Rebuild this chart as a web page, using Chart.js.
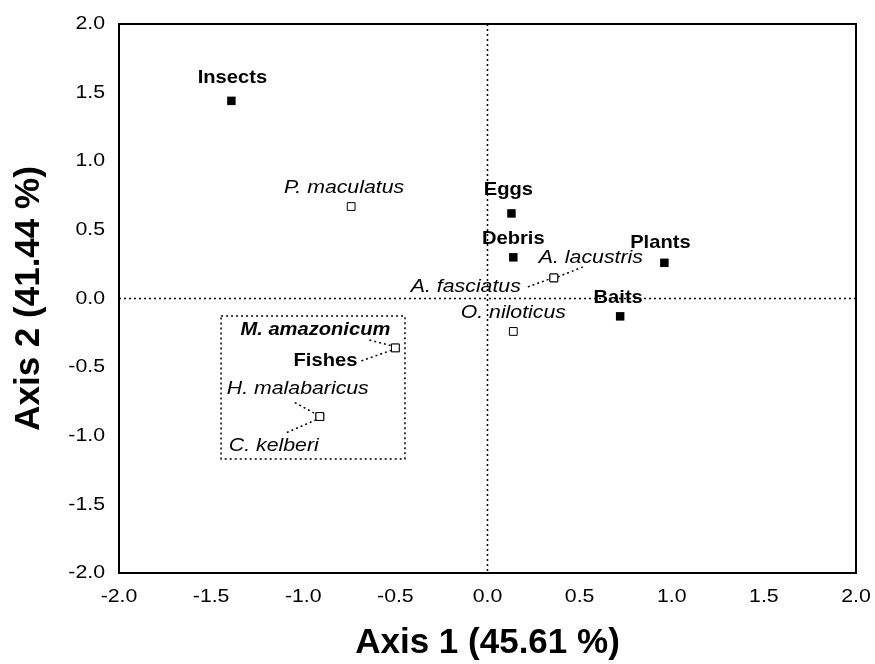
<!DOCTYPE html>
<html>
<head>
<meta charset="utf-8">
<script src="https://cdn.jsdelivr.net/npm/chart.js@4.4.0/dist/chart.umd.min.js"></script>
<style>
  html, body { margin: 0; padding: 0; background: #fff; }
  #wrap { width: 875px; height: 664px; }
</style>
</head>
<body>
<div id="wrap"><canvas id="mycanvas" width="875" height="664"></canvas></div>
<script>
// food items (filled squares)
var foodNames = ['Insects', 'Eggs', 'Debris', 'Plants', 'Baits', 'Fishes'];
var foodX = [-1.39, 0.13, 0.14, 0.96, 0.72, -0.50];
var foodY = [1.44, 0.62, 0.30, 0.26, -0.13, -0.36];

// species (open squares)
var speciesNames = ['P. maculatus', 'A. lacustris', 'A. fasciatus', 'O. niloticus', 'M. amazonicum', 'H. malabaricus', 'C. kelberi'];
var speciesX = [-0.74, 0.36, 0.36, 0.14, -0.50, -0.91, -0.91];
var speciesY = [0.67, 0.15, 0.15, -0.24, -0.36, -0.86, -0.86];

var tickValues = [-2.0, -1.5, -1.0, -0.5, 0.0, 0.5, 1.0, 1.5, 2.0];
var xTitle = 'Axis 1 (45.61 %)';
var yTitle = 'Axis 2 (41.44 %)';

// dotted group box (data units)
var boxX = [-1.446, -0.448];
var boxY = [-0.128, -1.169];

// the original figure uses slightly wide lettering for the small text
function stretchFor(font) {
  var m = /(\d+(?:\.\d+)?)px/.exec(font);
  var size = m ? +m[1] : 12;
  if (size >= 30) return 1;
  if (/bold/.test(font)) return 1.06;
  return 1.12;
}
var origFillText = CanvasRenderingContext2D.prototype.fillText;
CanvasRenderingContext2D.prototype.fillText = function(text, x, y, maxWidth) {
  var s = stretchFor(this.font);
  if (s === 1) {
    if (maxWidth === undefined) return origFillText.call(this, text, x, y);
    return origFillText.call(this, text, x, y, maxWidth);
  }
  this.save();
  this.translate(x, y);
  this.scale(s, 1);
  origFillText.call(this, text, 0, 0);
  this.restore();
};

var boldFont = 'bold 19px "Liberation Sans", Arial';
var italFont = 'italic 19px "Liberation Sans", Arial';

// label placement, pixel offsets from the point
var labelStyle = {
  'Insects':       { dx: 1,   dy: -23, align: 'center', font: boldFont },
  'Eggs':          { dx: -3,  dy: -24, align: 'center', font: boldFont },
  'Debris':        { dx: 0,   dy: -19, align: 'center', font: boldFont },
  'Plants':        { dx: -4,  dy: -20, align: 'center', font: boldFont },
  'Baits':         { dx: -2,  dy: -19, align: 'center', font: boldFont },
  'Fishes':        { dx: -38, dy: 13,  align: 'right',  font: boldFont, lead: [-34, 13, -3, 2] },
  'P. maculatus':  { dx: 53,  dy: -19, align: 'right',  font: italFont },
  'A. lacustris':  { dx: -15, dy: -20, align: 'left',   font: italFont, lead: [4, -1, 29, -11] },
  'A. fasciatus':  { dx: -33, dy: 9,   align: 'right',  font: italFont, lead: [-26, 9, -4, 1] },
  'O. niloticus':  { dx: 0,   dy: -19, align: 'center', font: italFont },
  'M. amazonicum': { dx: -5,  dy: -18, align: 'right',  font: 'italic bold 19px "Liberation Sans", Arial', lead: [-26, -8, -3, -2] },
  'H. malabaricus':{ dx: -93, dy: -28, align: 'left',   font: italFont, lead: [-25, -14, -3, -2] },
  'C. kelberi':    { dx: -91, dy: 29,  align: 'left',   font: italFont, lead: [-33, 16, -3, 3] }
};

function toPoints(xs, ys) {
  var out = [];
  for (var i in xs) out.push({ x: xs[i], y: ys[i] });
  return out;
}

var dotted = [2, 3];

var extras = {
  id: 'extras',
  beforeDatasetsDraw: function(chart) {
    var ctx = chart.ctx, a = chart.chartArea;
    var xs = chart.scales.x, ys = chart.scales.y;
    ctx.save();
    ctx.strokeStyle = '#000';
    ctx.lineWidth = 1.5;
    ctx.setLineDash(dotted);
    // zero lines
    var x0 = xs.getPixelForValue(0), y0 = ys.getPixelForValue(0);
    ctx.beginPath();
    ctx.moveTo(x0, a.top); ctx.lineTo(x0, a.bottom);
    ctx.moveTo(a.left, y0); ctx.lineTo(a.right, y0);
    ctx.stroke();
    // group box
    var bx1 = xs.getPixelForValue(boxX[0]), bx2 = xs.getPixelForValue(boxX[1]);
    var by1 = ys.getPixelForValue(boxY[0]), by2 = ys.getPixelForValue(boxY[1]);
    ctx.strokeRect(bx1, by1, bx2 - bx1, by2 - by1);
    // leader lines
    var all = [[foodNames, foodX, foodY], [speciesNames, speciesX, speciesY]];
    all.forEach(function(g) {
      for (var i in g[0]) {
        var st = labelStyle[g[0][i]];
        if (!st || !st.lead) continue;
        var px = xs.getPixelForValue(g[1][i]), py = ys.getPixelForValue(g[2][i]);
        ctx.beginPath();
        ctx.moveTo(px + st.lead[0], py + st.lead[1]);
        ctx.lineTo(px + st.lead[2], py + st.lead[3]);
        ctx.stroke();
      }
    });
    ctx.restore();
  },
  afterDatasetsDraw: function(chart) {
    var ctx = chart.ctx, a = chart.chartArea;
    var xs = chart.scales.x, ys = chart.scales.y;
    ctx.save();
    // frame
    ctx.strokeStyle = '#000';
    ctx.lineWidth = 2;
    ctx.strokeRect(a.left, a.top, a.right - a.left, a.bottom - a.top);
    // labels
    ctx.fillStyle = '#000';
    ctx.textBaseline = 'middle';
    var all = [[foodNames, foodX, foodY], [speciesNames, speciesX, speciesY]];
    all.forEach(function(g) {
      for (var i in g[0]) {
        var st = labelStyle[g[0][i]];
        var px = xs.getPixelForValue(g[1][i]), py = ys.getPixelForValue(g[2][i]);
        ctx.font = st.font;
        ctx.textAlign = st.align;
        ctx.fillText(g[0][i], px + st.dx, py + st.dy);
      }
    });
    ctx.restore();
  }
};

var tickFont = { family: '"Liberation Sans", Arial', size: 19 };
var titleFont = { family: '"Liberation Sans", Arial', size: 35, weight: 'bold' };

var ctx = document.getElementById('mycanvas');
var chart = new Chart(ctx, {
  type: 'scatter',
  data: {
    datasets: [
      {
        label: 'species',
        data: toPoints(speciesX, speciesY),
        pointStyle: 'rect',
        pointRadius: 5.5,
        backgroundColor: '#fff',
        borderColor: '#000',
        borderWidth: 1
      },
      {
        label: 'food',
        data: toPoints(foodX, foodY),
        pointStyle: 'rect',
        pointRadius: 6,
        backgroundColor: '#000',
        borderColor: '#000',
        borderWidth: 0
      }
    ]
  },
  options: {
    responsive: false,
    animation: false,
    layout: { padding: { top: 24, right: 19, left: 0, bottom: 0 } },
    plugins: { legend: { display: false }, tooltip: { enabled: false } },
    scales: {
      x: {
        type: 'linear', min: -2, max: 2,
        afterBuildTicks: function(s) { s.ticks = tickValues.map(function(v) { return { value: v }; }); },
        afterFit: function(s) { s.height = 91; s.paddingLeft = 0; s.paddingRight = 0; },
        grid: { display: false, drawTicks: false },
        border: { display: false },
        ticks: { color: '#000', font: tickFont, padding: 12, maxRotation: 0,
                 callback: function(v) { return v.toFixed(1); } },
        title: { display: true, text: xTitle, color: '#000', font: titleFont, padding: { top: 0, bottom: 0 } }
      },
      y: {
        type: 'linear', min: -2, max: 2,
        afterBuildTicks: function(s) { s.ticks = tickValues.map(function(v) { return { value: v }; }); },
        afterFit: function(s) { s.width = 119; s.paddingTop = 0; s.paddingBottom = 0; },
        grid: { display: false, drawTicks: false },
        border: { display: false },
        ticks: { color: '#000', font: tickFont, padding: 14,
                 callback: function(v) { return v.toFixed(1); } },
        title: { display: true, text: yTitle, color: '#000', font: titleFont, padding: { top: 8, bottom: 0 } }
      }
    }
  },
  plugins: [extras]
});
</script>
</body>
</html>
